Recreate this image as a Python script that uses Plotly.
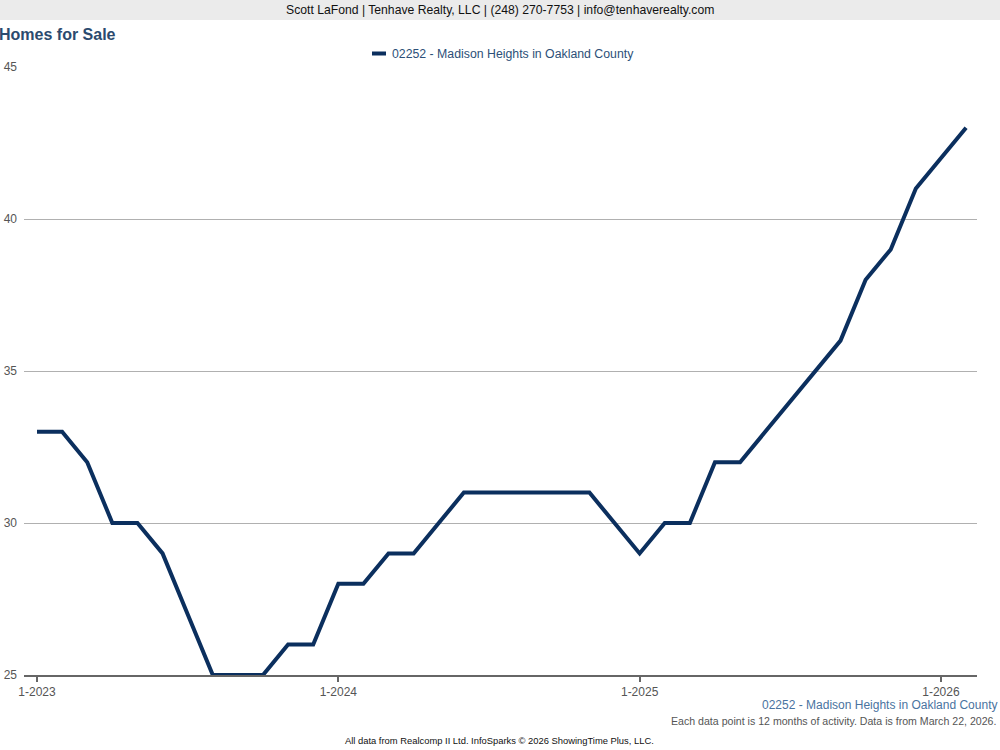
import plotly.graph_objects as go

# Data: 12-month rolling homes for sale, monthly Jan 2023 - Feb 2026
month_index = list(range(38))
values = [33, 33, 32, 30, 30, 29, 27, 25, 25, 25, 26, 26,
          28, 28, 29, 29, 30, 31, 31, 31, 31, 31, 31, 30,
          29, 30, 30, 32, 32, 33, 34, 35, 36, 38, 39, 41,
          42, 43]
tick_positions = [0, 12, 24, 36]
tick_labels = ["1-2023", "1-2024", "1-2025", "1-2026"]
series_name = "02252 - Madison Heights in Oakland County"

FONT = "Liberation Sans, Arial, sans-serif"
L, R, T, B = 24, 23, 67, 75
PW, PH = 1000 - L - R, 750 - T - B


def px(x):
    return (x - L) / PW


def py(y):
    return (750 - B - y) / PH


fig = go.Figure()
fig.add_trace(go.Scatter(
    x=month_index, y=values, mode="lines", name=series_name,
    line=dict(color="#0b2f5e", width=4), showlegend=False,
))

fig.update_layout(
    width=1000, height=750,
    margin=dict(l=L, r=R, t=T, b=B, autoexpand=False),
    paper_bgcolor="white", plot_bgcolor="white",
    font=dict(family=FONT, size=12, color="#555555"),
    showlegend=False,
    xaxis=dict(range=[-(37 - L) / 25.11, (977 - 37) / 25.11], tickvals=tick_positions,
               ticktext=tick_labels, automargin=False,
               showgrid=False, zeroline=False, showline=True, linecolor="#666666",
               linewidth=2, ticks="outside", ticklen=5, tickwidth=2, tickcolor="#666666",
               tickfont=dict(size=12, color="#555555")),
    yaxis=dict(range=[25, 45], tickvals=[25, 30, 35, 40, 45], showgrid=True,
               automargin=False,
               gridcolor="#b0b0b0", gridwidth=1, zeroline=False, showline=False,
               ticks="", ticklabelstandoff=6, tickfont=dict(size=12, color="#555555")),
    shapes=[
        dict(type="rect", xref="paper", yref="paper", x0=px(-5), x1=px(1005),
             y0=py(20), y1=py(0), fillcolor="#ebebeb",
             line=dict(width=0), layer="below"),
        dict(type="line", xref="paper", yref="paper", x0=px(372), x1=px(386),
             y0=py(53.5), y1=py(53.5), line=dict(color="#0b2f5e", width=4)),
    ],
    annotations=[
        dict(text="Scott LaFond | Tenhave Realty, LLC | (248) 270-7753 | info@tenhaverealty.com",
             xref="paper", yref="paper", x=px(500), y=py(10),
             xanchor="center", yanchor="middle", showarrow=False,
             font=dict(size=12.2, color="#111111", family=FONT)),
        dict(text="<b>Homes for Sale</b>", xref="paper", yref="paper",
             x=px(-3), y=py(34), xanchor="left", yanchor="middle",
             showarrow=False, font=dict(size=16, color="#2b4a6e", family=FONT)),
        dict(text=series_name, xref="paper", yref="paper",
             x=px(390), y=py(53.5), xanchor="left", yanchor="middle",
             showarrow=False, font=dict(size=12.3, color="#2d5078", family=FONT)),
        dict(text=series_name, xref="paper", yref="paper", x=px(999),
             y=py(705), xanchor="right", yanchor="middle", showarrow=False,
             font=dict(size=12, color="#4a73a0", family=FONT)),
        dict(text="Each data point is 12 months of activity. Data is from March 22, 2026.",
             xref="paper", yref="paper", x=px(998), y=py(721),
             xanchor="right", yanchor="middle", showarrow=False,
             font=dict(size=10.6, color="#555555", family=FONT)),
        dict(text="All data from Realcomp II Ltd. InfoSparks © 2026 ShowingTime Plus, LLC.",
             xref="paper", yref="paper", x=px(499), y=py(740),
             xanchor="center", yanchor="middle", showarrow=False,
             font=dict(size=9.4, color="#111111", family=FONT)),
    ],
)

fig.write_html("out.html", config={"displayModeBar": False},
               post_script="document.body.style.margin='0';document.body.style.padding='0';document.body.style.overflow='hidden';")
